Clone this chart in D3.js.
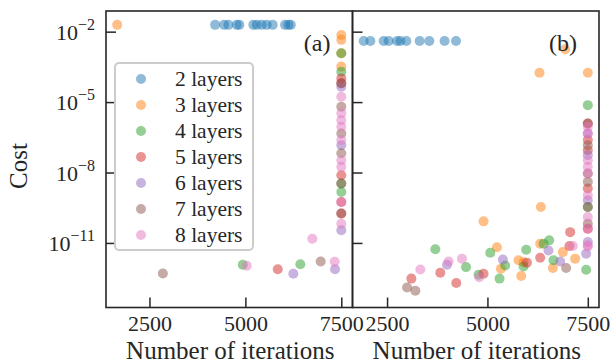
<!DOCTYPE html>
<html><head><meta charset="utf-8">
<script src="https://cdn.jsdelivr.net/npm/d3@7"></script>
<style>
html,body{margin:0;padding:0;background:#fff;}
svg{display:block;}
text{font-family:"Liberation Serif","Times New Roman",serif;fill:#262626;}
</style></head>
<body><svg id="chart" width="613" height="362"></svg>
<script>
// ---------- data ----------
const seriesLabels = ["2 layers","3 layers","4 layers","5 layers","6 layers","7 layers","8 layers"];
const palette = ["#1f77b4","#ff7f0e","#2ca02c","#d62728","#9467bd","#8c564b","#e377c2"];
const xTicks = [2500, 5000, 7500];
const yTicks = [1e-2, 1e-5, 1e-8, 1e-11];
const yTickExp = ["−2", "−5", "−8", "−11"];
const panelNames = ["(a)", "(b)"];

// Panel (a): iterations and cost per series
const a2Iter = [4211,4445,4557,4776,4843,5208,5297,5427,5557,5713,6034,6120,6183];
const a2Cost = [1.95e-2,1.95e-2,1.95e-2,1.95e-2,1.95e-2,1.95e-2,1.95e-2,1.95e-2,1.95e-2,1.95e-2,1.95e-2,1.95e-2,1.95e-2];
const a3Iter = [1659,7500,7500,7500,7500];
const a3Cost = [1.95e-2,7.24e-3,4.47e-3,1.2e-3,3.24e-4];
const a4Iter = [7500,7500,7500,7500,4932,6432];
const a4Cost = [1.2e-3,1.95e-4,3.39e-9,1.48e-9,1.17e-12,1.23e-12];
const a5Iter = [7500,7500,7500,7500,7500,5844];
const a5Cost = [1.02e-4,6.31e-5,7.59e-9,5.5e-10,1.78e-10,7.59e-13];
const a6Iter = [7500,7500,7500,6250,7336];
const a6Cost = [4.47e-5,1.45e-7,3.47e-11,4.9e-13,7.59e-13];
const a7Iter = [7500,7500,7500,7500,7500,7500,2849,6963];
const a7Cost = [6.31e-5,6.31e-6,4.57e-7,6.61e-8,3.39e-9,1.78e-10,5.01e-13,1.62e-12];
const a8Iter = [7500,7500,7500,7500,7500,7500,7500,7500,7500,5036,6745,7328];
const a8Cost = [1.7e-5,3.31e-6,1.7e-6,8.91e-7,2.4e-7,3.31e-8,1.74e-8,5.5e-10,6.61e-11,1.07e-12,1.51e-11,1.58e-12];

// Panel (b)
const b2Iter = [1918,2085,2415,2540,2749,2831,2980,3311,3552,3933,4217];
const b2Cost = [3.98e-3,3.98e-3,3.98e-3,3.98e-3,3.98e-3,3.98e-3,3.98e-3,3.98e-3,3.98e-3,3.98e-3,3.98e-3];
const b3Iter = [6936,6297,7500,6331,4903,5237,5336,5774,5841,5899,6314,6630,6879,7185];
const b3Cost = [1.78e-3,1.78e-4,1.78e-4,3.39e-10,8.32e-11,6.61e-12,7.94e-13,1.82e-12,3.89e-13,1.51e-12,9.33e-12,8.51e-13,4.07e-12,2.14e-12];
const b4Iter = [7500,3702,4466,4779,5070,5443,5301,5899,5966,6399,6538,6645,7459,7500];
const b4Cost = [7.41e-6,5.37e-12,9.33e-13,4.47e-13,3.8e-12,1.1e-12,3.02e-13,1e-12,5.13e-12,9.33e-12,1.29e-11,1.82e-12,7.24e-13,3.39e-10];
const b5Iter = [3105,3826,4224,4903,5983,6314,7061,7043,7500,7500,7500,7500,7500];
const b5Cost = [3.02e-13,5.37e-13,1.95e-13,4.9e-13,1.45e-12,2.34e-12,2.88e-11,7.41e-12,1.23e-6,2.4e-7,8.91e-8,2.09e-9,4.07e-11];
const b6Iter = [3993,5386,6521,6812,7459,7500,7500,7500,7500];
const b6Cost = [1.17e-12,1.95e-12,4.79e-12,1.62e-12,3.47e-12,1.1e-11,4.57e-7,5.5e-8,6.61e-10];
const b7Iter = [2998,3204,6961,7500,7500,7500,7500,7500,7500];
const b7Cost = [1.26e-13,9.12e-14,8.51e-13,1.23e-6,1.45e-7,9.12e-9,3.98e-9,3.39e-10,6.61e-11];
const b8Iter = [3329,4033,4366,4796,7127,7500,7500,7500,7500,7500,7500,7500,7500,7500,7500];
const b8Cost = [7.41e-13,1.62e-12,2.14e-12,3.47e-13,7.41e-12,7.08e-12,8.91e-7,4.57e-7,3.31e-8,1.74e-8,9.12e-9,1.07e-9,1.26e-10,4.07e-11,7.94e-12];

const xDomains = [[1367, 7792], [1639, 7779]];
const yDomain = [Math.pow(10,-13.75), Math.pow(10,-1.12)];

// ---------- build ----------
const panelA = [[a2Iter,a2Cost],[a3Iter,a3Cost],[a4Iter,a4Cost],[a5Iter,a5Cost],[a6Iter,a6Cost],[a7Iter,a7Cost],[a8Iter,a8Cost]];
const panelB = [[b2Iter,b2Cost],[b3Iter,b3Cost],[b4Iter,b4Cost],[b5Iter,b5Cost],[b6Iter,b6Cost],[b7Iter,b7Cost],[b8Iter,b8Cost]];
const panels = [panelA, panelB];

const svg = d3.select("#chart");
svg.append("rect").attr("width",613).attr("height",362).attr("fill","#fff");

const plotTop = 11, plotBottom = 307.5;
const lefts = [106, 352.5], rights = [352.5, 599];
const y = d3.scaleLog().domain(yDomain).range([plotBottom, plotTop]);

panels.forEach((pdata, pi) => {
  const x = d3.scaleLinear().domain(xDomains[pi]).range([lefts[pi], rights[pi]]);
  const g = svg.append("g");
  pdata.forEach((s, si) => {
    const pts = s[0].map((v, k) => ({it: v, c: s[1][k]}));
    g.append("g").selectAll("circle").data(pts).join("circle")
      .attr("cx", d => x(d.it)).attr("cy", d => y(d.c)).attr("r", 5)
      .attr("fill", palette[si]).attr("fill-opacity", 0.5);
  });
  const xa = g.append("g").attr("transform", `translate(0,${plotBottom})`)
    .call(d3.axisBottom(x).tickValues(xTicks).tickFormat(d3.format("d")).tickSizeInner(-10).tickSizeOuter(0).tickPadding(0));
  xa.select(".domain").remove();
  xa.selectAll("line").attr("stroke","#262626").attr("stroke-width",1.5);
  xa.selectAll("text").attr("font-size", 22).attr("fill","#262626").attr("dy", null).attr("y", 23.5)
    .style("font-family","Liberation Serif, serif");
  const ya = g.append("g").attr("transform", `translate(${lefts[pi]},0)`)
    .call(d3.axisLeft(y).tickValues(yTicks).tickFormat("").tickSizeInner(-10).tickSizeOuter(0));
  ya.select(".domain").remove();
  ya.selectAll("line").attr("stroke","#262626").attr("stroke-width",1.5);
  if (pi === 0) {
    yTicks.forEach((t, k) => {
      const tx = svg.append("text").attr("x", 95).attr("y", y(t) + 8)
        .attr("text-anchor","end").attr("font-size", 22);
      tx.append("tspan").text("10");
      tx.append("tspan").attr("dy", -10).attr("font-size", 16).text(yTickExp[k]);
    });
  }
  g.append("rect").attr("x", lefts[pi]).attr("y", plotTop)
    .attr("width", rights[pi]-lefts[pi]).attr("height", plotBottom-plotTop)
    .attr("fill","none").attr("stroke","#262626").attr("stroke-width",1.6);
  svg.append("text").attr("x", rights[pi] - 22).attr("y", 51).attr("text-anchor","end")
    .attr("font-size", 24).text(panelNames[pi]);
  svg.append("text").attr("x", (lefts[pi]+rights[pi])/2 + 1).attr("y", 358.5)
    .attr("text-anchor","middle").attr("font-size", 25).text("Number of iterations");
});

svg.append("text").attr("transform","translate(27,166) rotate(-90)")
  .attr("text-anchor","middle").attr("font-size", 25).text("Cost");

const lg = svg.append("g");
lg.append("rect").attr("x",115).attr("y",63).attr("width",138).attr("height",187).attr("rx",4)
  .attr("fill","#fff").attr("fill-opacity",0.8).attr("stroke","#cccccc").attr("stroke-width",2);
seriesLabels.forEach((lab, i) => {
  const yy = 79 + i * 26;
  lg.append("circle").attr("cx",141).attr("cy",yy).attr("r",5).attr("fill",palette[i]).attr("fill-opacity",0.5);
  lg.append("text").attr("x",175).attr("y",yy+7).attr("font-size",21.5).text(lab);
});
</script></body></html>
